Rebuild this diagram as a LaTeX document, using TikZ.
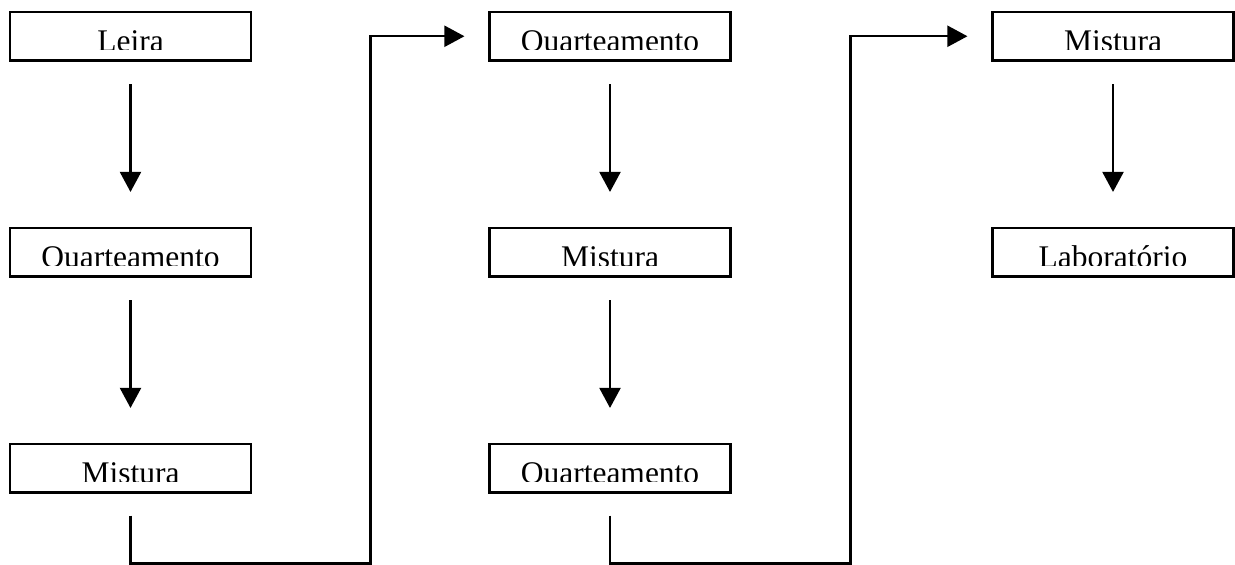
\documentclass[tikz,border=0pt]{standalone}
\usepackage{fontspec}
\setmainfont{Liberation Serif}
\usetikzlibrary{arrows.meta}

\tikzset{
  stagebox/.style={draw=black, line width=2.1pt, minimum width=241pt, minimum height=48.5pt, inner sep=0pt},
  stagetext/.style={inner sep=0pt, font=\fontsize{31.5}{36}\selectfont},
  flow/.style={line width=2.1pt, -{Triangle[width=21pt,length=20pt]}},
  link/.style={line width=2.1pt}
}

% box named #1, centred at x=#2, top edge at y=#3, label #4 (lower part cut off by the frame line)
\newcommand\stagenode[4]{%
  \node[stagebox] (#1) at (#2,#3+24.25) {};
  \begin{scope}
    \clip (#2-119,#3+1) rectangle (#2+119,#3+37.5);
    \node[stagetext, anchor=base] (#1-label) at (#2,#3+39.5) {#4};
  \end{scope}
}

\begin{document}
\begin{tikzpicture}[x=1pt,y=-1pt]
  \useasboundingbox (0,0) rectangle (1235,565);

  % column 1
  \stagenode{c1r1}{130.5}{12}{Leira}
  \stagenode{c1r2}{130.5}{228}{Quarteamento}
  \stagenode{c1r3}{130.5}{444}{Mistura}
  % column 2
  \stagenode{c2r1}{610}{12}{Quarteamento}
  \stagenode{c2r2}{610}{228}{Mistura}
  \stagenode{c2r3}{610}{444}{Quarteamento}
  % column 3
  \stagenode{c3r1}{1113}{12}{Mistura}
  \stagenode{c3r2}{1113}{228}{Laboratório}

  % vertical steps
  \draw[flow] ([yshift=-22.5pt]c1r1.south) -- ([yshift=35pt]c1r2.north);
  \draw[flow] ([yshift=-22.5pt]c1r2.south) -- ([yshift=35pt]c1r3.north);
  \draw[flow] ([yshift=-22.5pt]c2r1.south) -- ([yshift=35pt]c2r2.north);
  \draw[flow] ([yshift=-22.5pt]c2r2.south) -- ([yshift=35pt]c2r3.north);
  \draw[flow] ([yshift=-22.5pt]c3r1.south) -- ([yshift=35pt]c3r2.north);

  % transfers between columns
  \coordinate (j1) at (370.5,563.5);
  \coordinate (j2) at (850.5,563.5);
  \draw[flow] ([yshift=-22pt]c1r3.south) |- (j1) |- ([xshift=-24pt]c2r1.west);
  \draw[flow] ([yshift=-22pt]c2r3.south) |- (j2) |- ([xshift=-24pt]c3r1.west);
\end{tikzpicture}
\end{document}
